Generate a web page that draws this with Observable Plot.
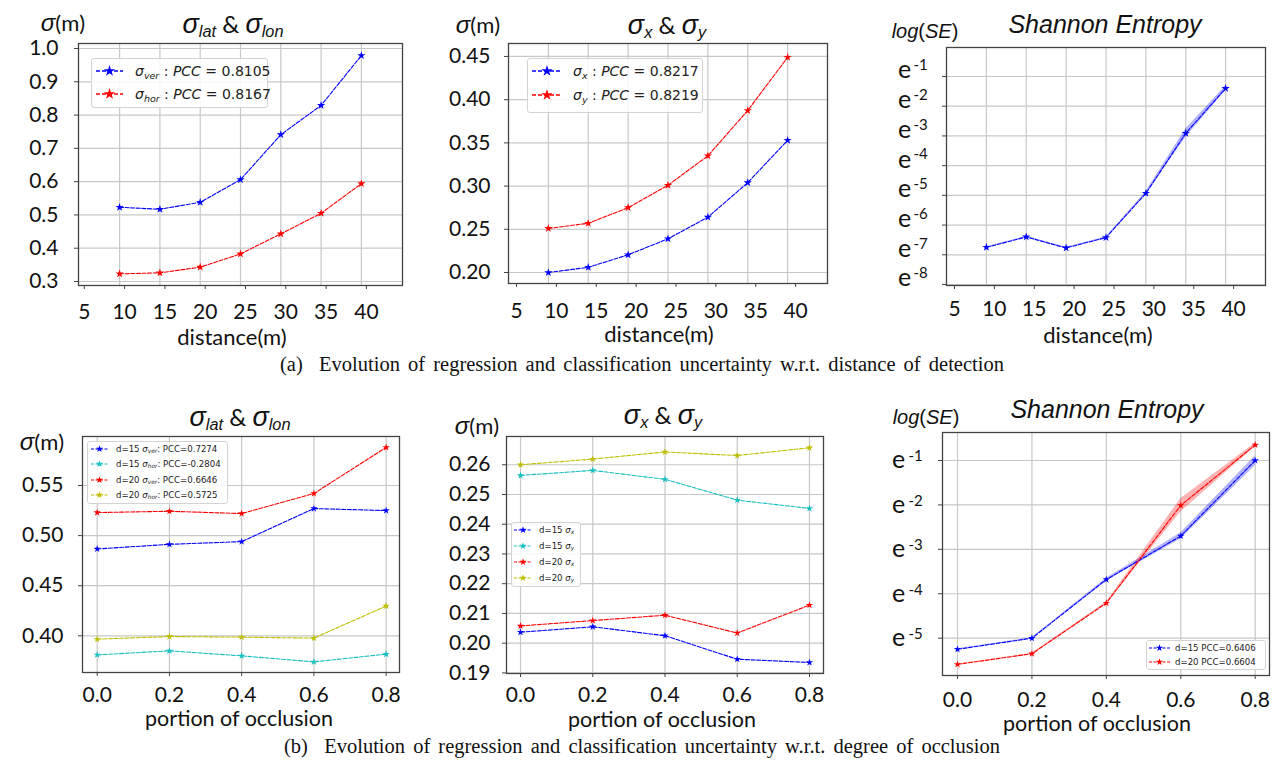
<!DOCTYPE html>
<html><head><meta charset="utf-8">
<script src="https://cdn.jsdelivr.net/npm/d3@7"></script>
<script src="https://cdn.jsdelivr.net/npm/@observablehq/plot@0.6"></script>
<style>
html,body{margin:0;padding:0;background:#fff;}
#fig{position:relative;width:1280px;height:766px;overflow:hidden;background:#fff;}
.lbl{position:absolute;white-space:nowrap;color:#111;line-height:1;}
.lbl sub{font-size:68%;vertical-align:-0.3em;line-height:0;}
.cap{font-family:"Liberation Serif",serif;font-size:20.5px;word-spacing:3px;}
.ax{font-family:Lato,sans-serif;font-size:22px;}
.xl{font-family:Lato,sans-serif;font-size:21.5px;}
.sig{font-family:"Liberation Sans",sans-serif;font-style:italic;}
.ttl{font-family:Lato,sans-serif;font-size:24px;}
.leg{font-family:"DejaVu Sans",sans-serif;color:#222;}
.panel{position:absolute;}
</style></head>
<body><div id="fig"></div>
<script>
// ---------- data ----------
const distances = [10, 15, 20, 25, 30, 35, 40];
const distTicks = [5, 10, 15, 20, 25, 30, 35, 40];
const sigmaVer = [0.523, 0.517, 0.538, 0.606, 0.741, 0.829, 0.979];
const sigmaHor = [0.323, 0.326, 0.343, 0.383, 0.443, 0.505, 0.594];
const sigmaX = [0.200, 0.206, 0.2205, 0.239, 0.264, 0.304, 0.353];
const sigmaY = [0.251, 0.257, 0.275, 0.301, 0.335, 0.3875, 0.449];
const logSEdist = [-6.75, -6.40, -6.77, -6.42, -4.93, -2.91, -1.40];
const logSEdistLo = [-6.77, -6.42, -6.79, -6.44, -4.98, -3.05, -1.48];
const logSEdistHi = [-6.73, -6.38, -6.75, -6.40, -4.88, -2.77, -1.32];

const occlusion = [0, 0.2, 0.4, 0.6, 0.8];
const d15SigmaVer = [0.4867, 0.4913, 0.494, 0.527, 0.525];
const d15SigmaHor = [0.381, 0.385, 0.380, 0.374, 0.3817];
const d20SigmaVer = [0.523, 0.5243, 0.522, 0.542, 0.588];
const d20SigmaHor = [0.3967, 0.3993, 0.3987, 0.3977, 0.4297];
const d15SigmaX = [0.2037, 0.2055, 0.2025, 0.1946, 0.1935];
const d15SigmaY = [0.2564, 0.2581, 0.2551, 0.2481, 0.2453];
const d20SigmaX = [0.2058, 0.2076, 0.2094, 0.2034, 0.2128];
const d20SigmaY = [0.2600, 0.2619, 0.2643, 0.2631, 0.2657];
const d15LogSE = [-5.25, -5.00, -3.68, -2.70, -1.00];
const d15LogSELo = [-5.26, -5.01, -3.71, -2.77, -1.12];
const d15LogSEHi = [-5.24, -4.99, -3.65, -2.63, -0.90];
const d20LogSE = [-5.59, -5.35, -4.21, -2.01, -0.65];
const d20LogSELo = [-5.60, -5.36, -4.23, -2.16, -0.69];
const d20LogSEHi = [-5.58, -5.34, -4.19, -1.86, -0.61];

const sigma1Ticks = [0.3, 0.4, 0.5, 0.6, 0.7, 0.8, 0.9, 1.0];
const sigma2Ticks = [0.20, 0.25, 0.30, 0.35, 0.40, 0.45];
const se1Ticks = [-1, -2, -3, -4, -5, -6, -7, -8];
const sigma4Ticks = [0.40, 0.45, 0.50, 0.55];
const sigma5Ticks = [0.19, 0.20, 0.21, 0.22, 0.23, 0.24, 0.25, 0.26];
const se2Ticks = [-1, -2, -3, -4, -5];

const BLUE = "#0000ff", RED = "#ff0000", CYAN = "#17bfbf", YEL = "#bfbf00";

// ---------- helpers ----------
const fig = document.getElementById("fig");
const rows = (xs, ys) => xs.map((x, i) => ({x, y: ys[i]}));
const bandRows = (xs, lo, hi) => xs.map((x, i) => ({x, lo: lo[i], hi: hi[i]}));

function addText(html, x, y, cls, anchor = "middle", extra = {}) {
  const d = document.createElement("div");
  d.className = "lbl " + (cls || "");
  d.innerHTML = html;
  d.style.left = x + "px";
  d.style.top = y + "px";
  d.style.transform = anchor === "middle" ? "translate(-50%,-50%)" : anchor === "start" ? "translate(0,-50%)" : "translate(-100%,-50%)";
  Object.assign(d.style, extra);
  fig.appendChild(d);
  return d;
}

function drawPanel(p) {
  const [fx0, fy0, fx1, fy1] = p.frame;
  const marks = [];
  marks.push(Plot.gridY(p.yTicks, {stroke: "#c8c8c8", strokeOpacity: 1, strokeWidth: 1.2}));
  marks.push(Plot.gridX(p.xGrid, {stroke: "#c8c8c8", strokeOpacity: 1, strokeWidth: 1.2}));
  for (const b of p.bands || []) {
    marks.push(Plot.areaY(b.data, {x: "x", y1: "lo", y2: "hi", fill: b.color, fillOpacity: 0.3}));
  }
  for (const s of p.series) {
    marks.push(Plot.line(s.data, {x: "x", y: "y", stroke: s.color, strokeWidth: 1.1, strokeDasharray: "4,1.6"}));
    marks.push(Plot.dot(s.data, {x: "x", y: "y", symbol: "star", fill: s.color, stroke: "none", r: p.r || 2.6}));
  }
  marks.push(Plot.frame({stroke: "#444", strokeWidth: 1.3}));
  marks.push(Plot.axisX(p.xTicks, {tickSize: 4, tickPadding: p.xPad, fontSize: 21, tickFormat: p.xFormat, label: null, dx: p.xdx || 0, stroke: "#444"}));
  if (p.expY) {
    marks.push(Plot.axisY(p.yTicks, {tickSize: 4, tickFormat: () => "", label: null, stroke: "#444"}));
    marks.push(Plot.text(p.yTicks, {y: d => d, frameAnchor: "left", text: () => "e", dx: p.eDx, dy: p.eDy, textAnchor: "middle", fontSize: 25, fill: "#111"}));
    marks.push(Plot.text(p.yTicks, {y: d => d, frameAnchor: "left", text: d => String(d), dx: p.supDx, dy: p.supDy, textAnchor: "start", fontSize: 15, fill: "#111"}));
  } else {
    marks.push(Plot.axisY(p.yTicks, {tickSize: 4, tickPadding: p.yPad, fontSize: 21, tickFormat: p.yFormat, label: null, stroke: "#444"}));
  }
  const chart = Plot.plot({
    width: p.W, height: p.H,
    marginLeft: fx0 - p.L, marginTop: fy0 - p.T, marginRight: p.L + p.W - fx1, marginBottom: p.T + p.H - fy1,
    x: {domain: p.xDomain},
    y: {domain: p.yDomain},
    style: {fontFamily: "Lato, sans-serif", color: "#111", background: "transparent", overflow: "visible"},
    marks
  });
  chart.classList.add("panel");
  chart.style.left = p.L + "px";
  chart.style.top = p.T + "px";
  fig.appendChild(chart);
}

function addLegend(L) {
  const box = document.createElement("div");
  box.style.cssText = `position:absolute;left:${L.x0}px;top:${L.y0}px;width:${L.x1 - L.x0}px;height:${L.y1 - L.y0}px;border:1px solid #d4d4d4;border-radius:3px;background:rgba(255,255,255,0.85);box-sizing:border-box;`;
  fig.appendChild(box);
  L.items.forEach((it, i) => {
    const y = L.rows[i];
    const w = L.s1 - L.s0;
    const svg = d3.create("svg").attr("width", w).attr("height", 12)
      .style("position", "absolute").style("left", L.s0 + "px").style("top", (y - 6) + "px").style("overflow", "visible");
    svg.append("line").attr("x1", 0).attr("x2", w).attr("y1", 6).attr("y2", 6)
      .attr("stroke", it.color).attr("stroke-width", L.lw).attr("stroke-dasharray", L.dash);
    svg.append("path").attr("d", d3.symbol(d3.symbolStar, L.star)()).attr("transform", `translate(${w / 2},6)`).attr("fill", it.color);
    fig.appendChild(svg.node());
    addText(it.html, L.tx, y, "leg", "start", {fontSize: L.fs + "px"});
  });
}

// ---------- panels ----------
drawPanel({L: 0, T: 0, W: 420, H: 330, frame: [78, 43, 402, 285],
  xDomain: [4.9, 45.1], yDomain: [0.288, 1.015],
  xTicks: distTicks, xGrid: distances, yTicks: sigma1Ticks,
  xFormat: d3.format("d"), yFormat: d3.format(".1f"), xPad: 15, yPad: 16, xdx: 5,
  series: [{data: rows(distances, sigmaVer), color: BLUE}, {data: rows(distances, sigmaHor), color: RED}]});

drawPanel({L: 420, T: 0, W: 430, H: 330, frame: [508, 43, 827, 283],
  xDomain: [5, 45], yDomain: [0.1873, 0.465],
  xTicks: distTicks, xGrid: distances, yTicks: sigma2Ticks,
  xFormat: d3.format("d"), yFormat: d3.format(".2f"), xPad: 16, yPad: 14, xdx: 8,
  series: [{data: rows(distances, sigmaX), color: BLUE}, {data: rows(distances, sigmaY), color: RED}]});

drawPanel({L: 850, T: 0, W: 430, H: 330, frame: [946, 47, 1265, 285],
  xDomain: [5, 45], yDomain: [-8.034, -0.024], expY: true,
  xTicks: distTicks, xGrid: distances, yTicks: se1Ticks,
  xFormat: d3.format("d"), xPad: 12, xdx: 8,
  eDx: -42, eDy: -6, supDx: -33, supDy: -11,
  bands: [{data: bandRows(distances, logSEdistLo, logSEdistHi), color: BLUE}],
  series: [{data: rows(distances, logSEdist), color: BLUE}]});

drawPanel({L: 0, T: 390, W: 420, H: 330, frame: [82, 436, 399, 672],
  xDomain: [-0.0407, 0.837], yDomain: [0.3634, 0.5989],
  xTicks: occlusion, xGrid: occlusion, yTicks: sigma4Ticks,
  xFormat: d3.format(".1f"), yFormat: d3.format(".2f"), xPad: 11, yPad: 15, r: 2.3,
  series: [{data: rows(occlusion, d15SigmaVer), color: BLUE}, {data: rows(occlusion, d15SigmaHor), color: CYAN},
           {data: rows(occlusion, d20SigmaVer), color: RED}, {data: rows(occlusion, d20SigmaHor), color: YEL}]});

drawPanel({L: 420, T: 390, W: 430, H: 330, frame: [506, 436, 823, 673],
  xDomain: [-0.0388, 0.8388], yDomain: [0.1898, 0.2695],
  xTicks: occlusion, xGrid: occlusion, yTicks: sigma5Ticks,
  xFormat: d3.format(".1f"), yFormat: d3.format(".2f"), xPad: 10, yPad: 12, r: 2.3,
  series: [{data: rows(occlusion, d15SigmaX), color: BLUE}, {data: rows(occlusion, d15SigmaY), color: CYAN},
           {data: rows(occlusion, d20SigmaX), color: RED}, {data: rows(occlusion, d20SigmaY), color: YEL}]});

drawPanel({L: 850, T: 390, W: 430, H: 330, frame: [942, 432, 1269, 675],
  xDomain: [-0.0403, 0.8384], yDomain: [-5.84, -0.37], expY: true,
  xTicks: occlusion, xGrid: occlusion, yTicks: se2Ticks,
  xFormat: d3.format(".1f"), xPad: 13,
  eDx: -44, eDy: 0, supDx: -34, supDy: -4, r: 2.3,
  bands: [{data: bandRows(occlusion, d15LogSELo, d15LogSEHi), color: BLUE}, {data: bandRows(occlusion, d20LogSELo, d20LogSEHi), color: RED}],
  series: [{data: rows(occlusion, d15LogSE), color: BLUE}, {data: rows(occlusion, d20LogSE), color: RED}]});

// ---------- titles & axis labels ----------
const titleLat = `<span class="sig" style="font-size:27px">σ</span><sub class="sig">lat</sub> &amp; <span class="sig" style="font-size:27px">σ</span><sub class="sig">lon</sub>`;
const titleXY = `<span class="sig" style="font-size:27px">σ</span><sub class="sig">x</sub> &amp; <span class="sig" style="font-size:27px">σ</span><sub class="sig">y</sub>`;
addText(titleLat, 233, 24, "ttl");
addText(titleXY, 667, 25, "ttl");
addText("Shannon Entropy", 1105, 24, "sig", "middle", {fontSize: "25px"});
addText(titleLat, 240, 417, "ttl");
addText(titleXY, 663, 415, "ttl");
addText("Shannon Entropy", 1107, 409, "sig", "middle", {fontSize: "25px"});

const ylab = `<span class="sig" style="font-size:24px">σ</span>(m)`;
addText(ylab, 63, 23, "ax");
addText(ylab, 478, 25, "ax");
addText(`<i>log</i>(<i>SE</i>)`, 925, 31, "sig", "middle", {fontSize: "20px", fontStyle: "normal"});
addText(ylab, 42, 442, "ax");
addText(ylab, 477, 426, "ax");
addText(`<i>log</i>(<i>SE</i>)`, 926, 417, "sig", "middle", {fontSize: "20px", fontStyle: "normal"});

addText("distance(m)", 232, 337, "ax");
addText("distance(m)", 659, 334, "ax");
addText("distance(m)", 1098, 335, "ax");
addText("portion of occlusion", 239, 719, "xl");
addText("portion of occlusion", 662, 720, "xl");
addText("portion of occlusion", 1097, 724, "xl");

// ---------- captions ----------
addText("(a)&nbsp; Evolution of regression and classification uncertainty w.r.t. distance of detection", 642, 364, "cap");
addText("(b)&nbsp; Evolution of regression and classification uncertainty w.r.t. degree of occlusion", 642, 746, "cap");

// ---------- legends ----------
const mi = s => `<i>σ</i><sub><i>${s}</i></sub>`;
addLegend({x0: 91, y0: 58, x1: 268, y1: 108, s0: 96, s1: 123, tx: 135, rows: [71, 94], fs: 14, lw: 1.5, dash: "4,2", star: 40,
  items: [{color: BLUE, html: `${mi("ver")} : <i>PCC</i> = 0.8105`}, {color: RED, html: `${mi("hor")} : <i>PCC</i> = 0.8167`}]});
addLegend({x0: 527, y0: 58, x1: 703, y1: 113, s0: 532, s1: 562, tx: 573, rows: [71, 95], fs: 14, lw: 1.5, dash: "4,2", star: 40,
  items: [{color: BLUE, html: `${mi("x")} : <i>PCC</i> = 0.8217`}, {color: RED, html: `${mi("y")} : <i>PCC</i> = 0.8219`}]});
addLegend({x0: 87, y0: 441, x1: 228, y1: 504, s0: 91, s1: 108, tx: 116, rows: [448.5, 464.3, 479.7, 495], fs: 8.6, lw: 1, dash: "3,1.5", star: 16,
  items: [{color: BLUE, html: `d=15 ${mi("ver")}: PCC=0.7274`}, {color: CYAN, html: `d=15 ${mi("hor")}: PCC=-0.2804`},
          {color: RED, html: `d=20 ${mi("ver")}: PCC=0.6646`}, {color: YEL, html: `d=20 ${mi("hor")}: PCC=0.5725`}]});
addLegend({x0: 511, y0: 522, x1: 581, y1: 587, s0: 514, s1: 532, tx: 539, rows: [530, 545.7, 562, 577.7], fs: 8.6, lw: 1, dash: "3,1.5", star: 16,
  items: [{color: BLUE, html: `d=15 ${mi("x")}`}, {color: CYAN, html: `d=15 ${mi("y")}`},
          {color: RED, html: `d=20 ${mi("x")}`}, {color: YEL, html: `d=20 ${mi("y")}`}]});
addLegend({x0: 1146, y0: 640, x1: 1266, y1: 670, s0: 1149, s1: 1170, tx: 1175, rows: [647.7, 662], fs: 8.6, lw: 1, dash: "3,1.5", star: 16,
  items: [{color: BLUE, html: `d=15 PCC=0.6406`}, {color: RED, html: `d=20 PCC=0.6604`}]});
</script></body></html>
